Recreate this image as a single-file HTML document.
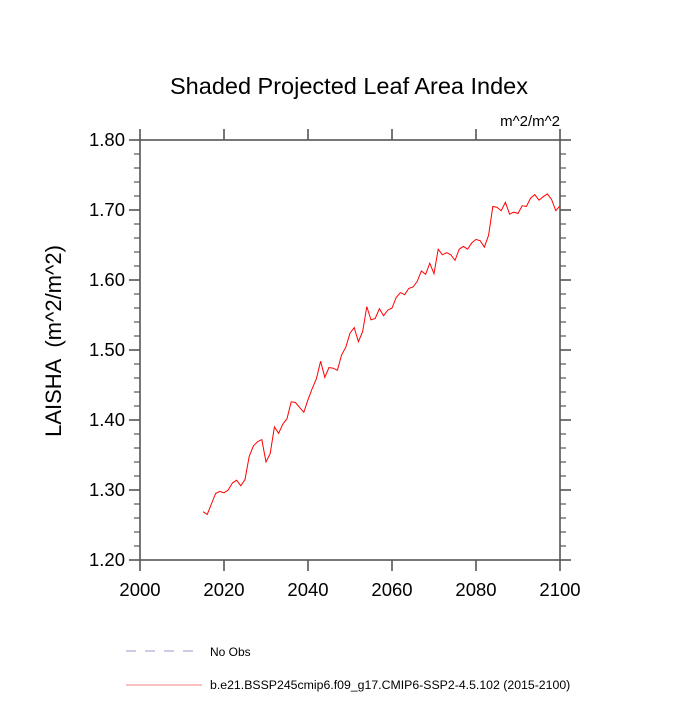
<!DOCTYPE html>
<html><head><meta charset="utf-8"><style>
html,body{margin:0;padding:0;background:#fff;}
svg text{font-family:"Liberation Sans",sans-serif;}
</style></head><body>
<svg id="chart" width="700" height="700" xmlns="http://www.w3.org/2000/svg">
<text x="349" y="94" font-size="23.5" text-anchor="middle">Shaded Projected Leaf Area Index</text>
<text x="560" y="126" font-size="15" text-anchor="end">m^2/m^2</text>
<text transform="translate(61,341) rotate(-90)" font-size="22" text-anchor="middle" xml:space="preserve" style="white-space:pre">LAISHA  (m^2/m^2)</text>
<g id="axes"></g>
<g id="series"></g>
<g>
<line x1="126" y1="651" x2="200" y2="651" stroke="#9999cc" stroke-width="1" stroke-dasharray="10,9"/>
<text x="210" y="656" font-size="12">No Obs</text>
<line x1="126" y1="685" x2="202" y2="685" stroke="#f08080" stroke-width="1"/>
<text x="210" y="689" font-size="12.3">b.e21.BSSP245cmip6.f09_g17.CMIP6-SSP2-4.5.102 (2015-2100)</text>
</g>
</svg>
<script>
const years = [];
for (let y = 2015; y <= 2100; y++) years.push(y);
const values = [1.269,1.265,1.280,1.295,1.298,1.296,1.300,1.310,1.314,1.306,1.315,1.348,1.363,1.369,1.372,1.340,1.352,1.390,1.381,1.394,1.402,1.426,1.425,1.418,1.411,1.429,1.445,1.459,1.484,1.461,1.475,1.474,1.471,1.493,1.504,1.524,1.532,1.512,1.526,1.562,1.543,1.545,1.559,1.549,1.557,1.560,1.575,1.582,1.579,1.588,1.590,1.598,1.613,1.608,1.624,1.609,1.644,1.636,1.639,1.636,1.628,1.644,1.648,1.644,1.653,1.658,1.656,1.647,1.664,1.705,1.704,1.699,1.711,1.694,1.697,1.695,1.706,1.705,1.717,1.722,1.714,1.719,1.723,1.715,1.699,1.706];
const xTicks = [2000,2020,2040,2060,2080,2100];
const yTicks = [1.20,1.30,1.40,1.50,1.60,1.70,1.80];
const L=140,R=560,T=140,B=560;
const xs = v => L + (v-2000)/100*(R-L);
const ys = v => B - (v-1.2)/0.6*(B-T);
const NS="http://www.w3.org/2000/svg";
const ax=document.getElementById('axes');
function mk(tag,attrs,parent){const e=document.createElementNS(NS,tag);for(const k in attrs)e.setAttribute(k,attrs[k]);parent.appendChild(e);return e;}
const c="#555";
const frame=mk('rect',{x:L,y:T,width:R-L,height:B-T,fill:'none',stroke:c,'stroke-width':1.6},ax);


xTicks.forEach(t=>{
  const x=xs(t);
  const a=mk('line',{x1:x,y1:B,x2:x,y2:B+11,stroke:c,'stroke-width':1.6},ax);
  
  
  const b=mk('line',{x1:x,y1:T,x2:x,y2:T-11,stroke:c,'stroke-width':1.6},ax);
  
  
  const tx=mk('text',{x:x,y:B+36,'font-size':18.5,'text-anchor':'middle'},ax);
  tx.textContent=t;
  
  
});
for(let i=0;i<=30;i++){
  const v=1.2+i*0.02, y=ys(v), major=i%5===0, len=major?11:6;
  const a=mk('line',{x1:L,y1:y,x2:L-len,y2:y,stroke:c,'stroke-width':major?1.6:1.2},ax);
  
  
  const b=mk('line',{x1:R,y1:y,x2:R+len,y2:y,stroke:c,'stroke-width':major?1.6:1.2},ax);
  
  
}
yTicks.forEach(t=>{
  const tx=mk('text',{x:L-15,y:ys(t)+6,'font-size':18.5,'text-anchor':'end'},ax);
  tx.textContent=t.toFixed(2);
  
  
});
const pts=years.map((y,i)=>xs(y).toFixed(2)+','+ys(values[i]).toFixed(2)).join(' ');
const line=mk('polyline',{points:pts,fill:'none',stroke:'#ff0000','stroke-width':1},document.getElementById('series'));


</script>
</body></html>
